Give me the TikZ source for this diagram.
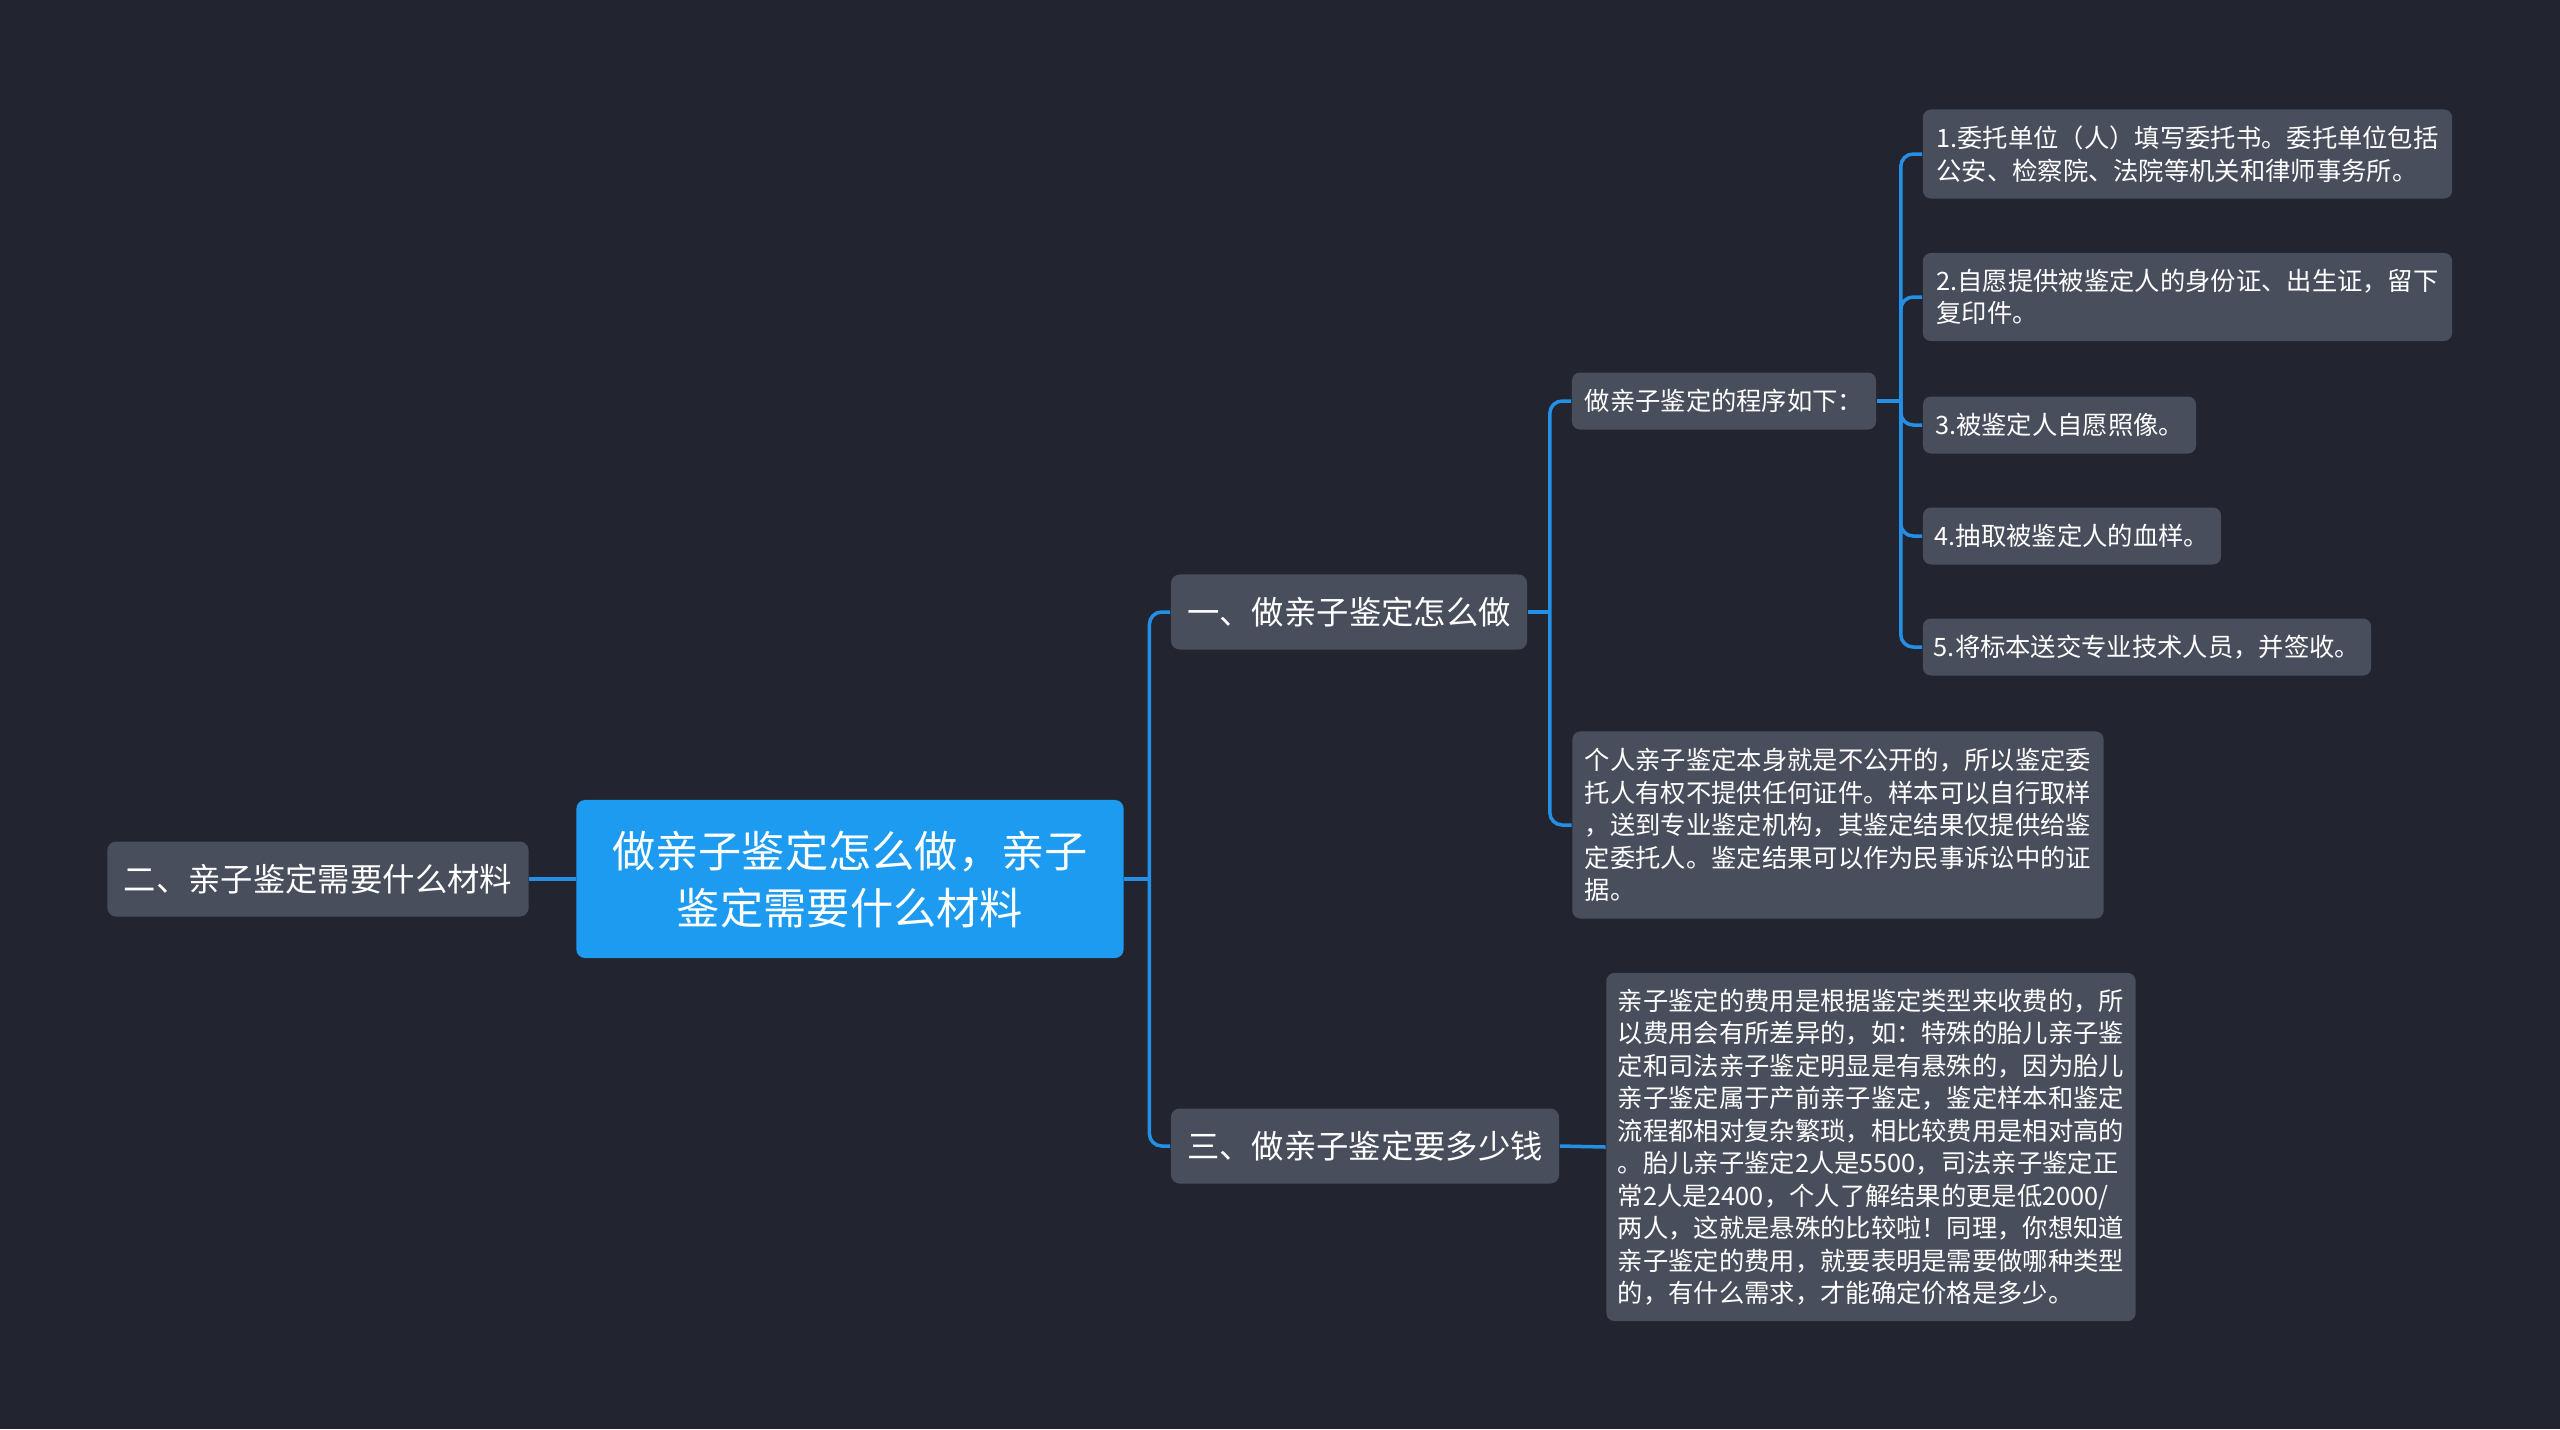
\documentclass[tikz,border=0pt]{standalone}
\usepackage{fontspec}
\setmainfont{Noto Sans CJK SC}

\definecolor{bgdark}{HTML}{22252F}
\definecolor{boxgrey}{HTML}{484E5B}
\definecolor{rootblue}{HTML}{1C9BF0}
\definecolor{linkblue}{HTML}{2390E6}

\begin{document}
\begin{tikzpicture}[
        x=0.01cm, y=-0.01cm,
        topic/.style={
            fill=rootblue,
            rounded corners=2.5pt,
            text=white,
            align=center,
            minimum width=5.47cm,
            minimum height=1.58cm,
            font=\fontsize{12.3}{16.2}\selectfont
        },
        branch/.style={
            fill=boxgrey,
            rounded corners=2.5pt,
            text=white,
            minimum height=0.75cm,
            font=\fontsize{9.2}{11}\selectfont
        },
        leaf/.style={
            fill=boxgrey,
            rounded corners=2.3pt,
            text=white,
            align=left,
            inner sep=0pt,
            font=\fontsize{7.2}{9.25}\selectfont
        },
        link/.style={draw=linkblue, line width=1pt, rounded corners=3.5pt}
    ]

    % background
    \fill[bgdark] (0,0) rectangle (2560,1429);
    \useasboundingbox (0,0) rectangle (2560,1429);

    % =========================
    % Centre and first level
    % =========================
    \node[topic] (root) at (850,879) {做亲子鉴定怎么做，亲子\\鉴定需要什么材料};

    \node[branch, minimum width=4.21cm] (materials) at (318,879) {二、亲子鉴定需要什么材料};
    \node[branch, minimum width=3.56cm] (howto) at (1349,612) {一、做亲子鉴定怎么做};
    \node[branch, minimum width=3.88cm] (cost)  at (1365,1146) {三、做亲子鉴定要多少钱};

    \coordinate (rootfork) at ([xshift=0.25cm]root.east);
    \draw[link] (root.west) -- (materials.east);
    \draw[link] (root.east) -- (rootfork);
    \draw[link] (howto.west) -| (rootfork) |- (cost.west);

    % =========================
    % How to do it
    % =========================
    \node[leaf, minimum width=3.04cm, minimum height=0.57cm] (steps) at (1724,401) {做亲子鉴定的程序如下：};
    \node[leaf, minimum width=5.31cm, minimum height=1.87cm] (privacy) at (1838,825)
        {个人亲子鉴定本身就是不公开的，所以鉴定委\\托人有权不提供任何证件。样本可以自行取样\\，送到专业鉴定机构，其鉴定结果仅提供给鉴\\定委托人。鉴定结果可以作为民事诉讼中的证\\据。};

    \coordinate (howfork) at ([xshift=0.22cm]howto.east);
    \draw[link] (howto.east) -- (howfork);
    \draw[link] (steps.west) -| (howfork) |- (privacy.west);

    % the five steps
    \node[leaf, minimum width=5.29cm, minimum height=0.89cm] (s1) at (2187.5,154) {1.委托单位（人）填写委托书。委托单位包括\\公安、检察院、法院等机关和律师事务所。};
    \node[leaf, minimum width=5.29cm, minimum height=0.88cm] (s2) at (2187.5,297) {2.自愿提供被鉴定人的身份证、出生证，留下\\复印件。};
    \node[leaf, minimum width=2.73cm, minimum height=0.57cm] (s3) at (2059.5,425) {3.被鉴定人自愿照像。};
    \node[leaf, minimum width=2.98cm, minimum height=0.57cm] (s4) at (2072,536) {4.抽取被鉴定人的血样。};
    \node[leaf, minimum width=4.48cm, minimum height=0.57cm] (s5) at (2147,647) {5.将标本送交专业技术人员，并签收。};

    \coordinate (stepfork) at ([xshift=0.24cm]steps.east);
    \draw[link] (steps.east) -- (stepfork);
    \draw[link] (s1.west) -| (stepfork) |- (s5.west);
    \draw[link] (stepfork) |- (s2.west);
    \draw[link] (stepfork) |- (s3.west);
    \draw[link] (stepfork) |- (s4.west);

    % =========================
    % Cost
    % =========================
    \node[leaf, minimum width=5.29cm, minimum height=3.48cm] (fees) at (1871,1147)
        {亲子鉴定的费用是根据鉴定类型来收费的，所\\以费用会有所差异的，如：特殊的胎儿亲子鉴\\定和司法亲子鉴定明显是有悬殊的，因为胎儿\\亲子鉴定属于产前亲子鉴定，鉴定样本和鉴定\\流程都相对复杂繁琐，相比较费用是相对高的\\。胎儿亲子鉴定2人是5500，司法亲子鉴定正\\常2人是2400，个人了解结果的更是低2000/\\两人，这就是悬殊的比较啦！同理，你想知道\\亲子鉴定的费用，就要表明是需要做哪种类型\\的，有什么需求，才能确定价格是多少。};

    \draw[link] (cost.east) -- (fees.west);

    \end{tikzpicture}
\end{document}
